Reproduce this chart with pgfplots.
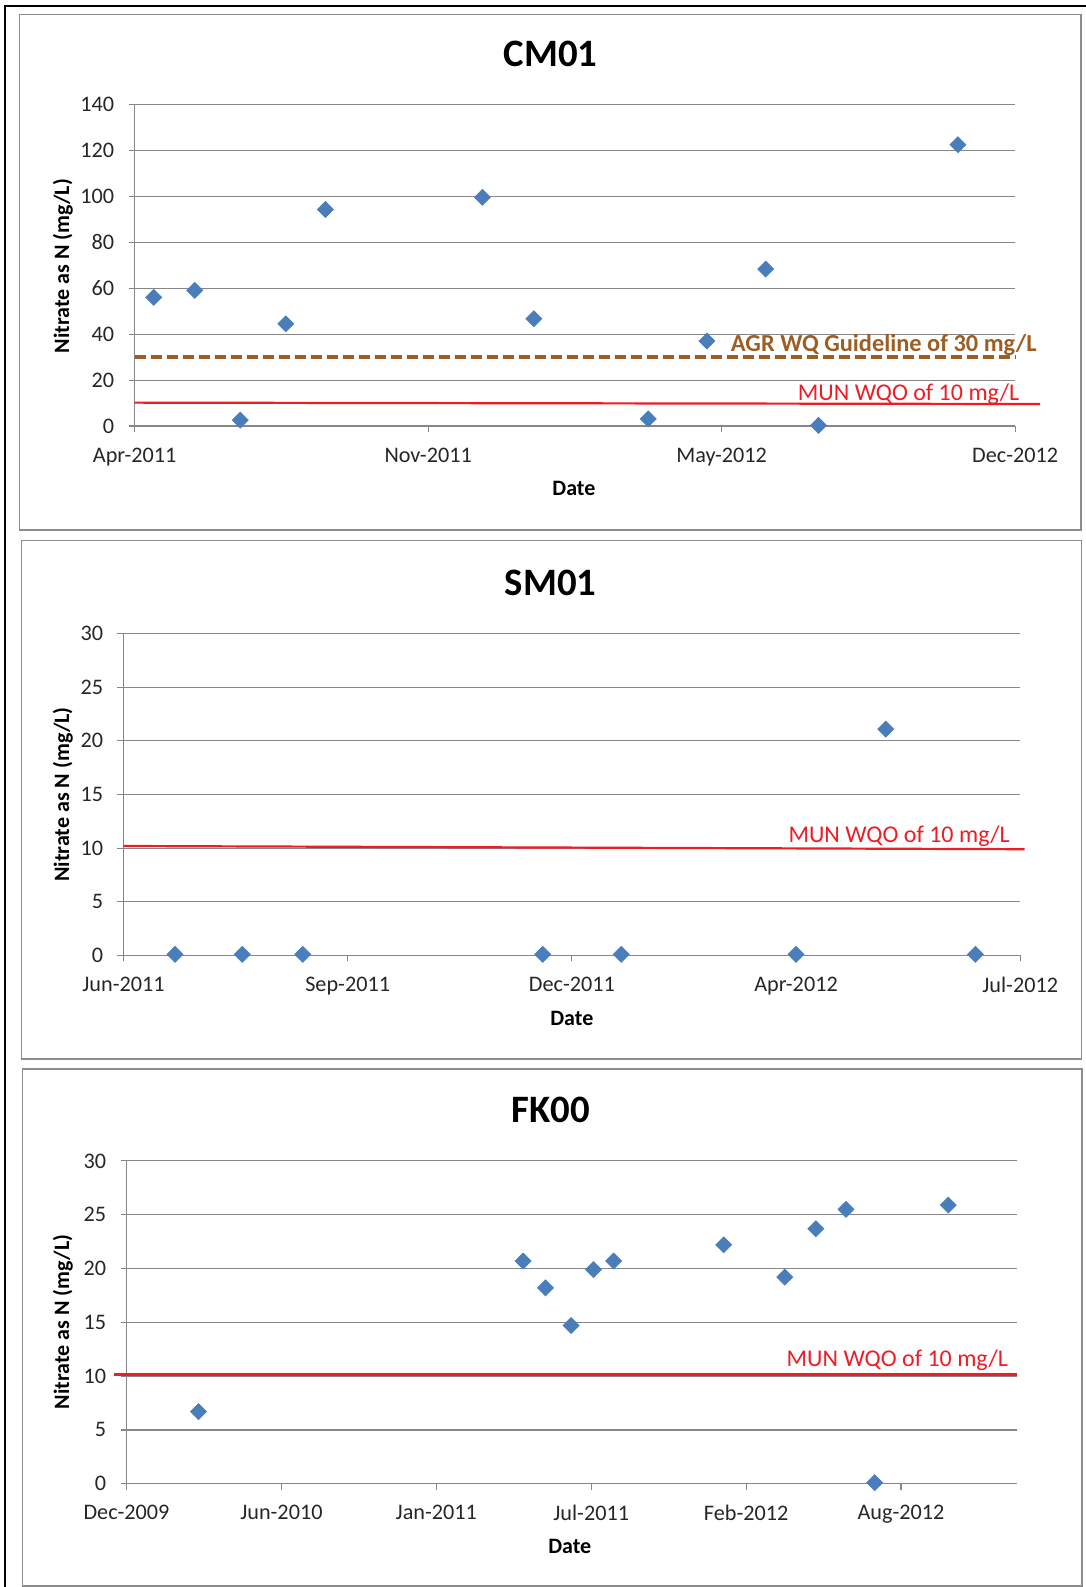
\documentclass[border=0pt]{standalone}
\usepackage{pgfplots}
\pgfplotsset{compat=1.18}
\usepackage{fontspec}
\setmainfont{Carlito}

\definecolor{gridgray}{HTML}{878787}
\definecolor{framegray}{HTML}{8C8C8C}
\definecolor{ptblue}{HTML}{4A7EBB}
\definecolor{munred}{HTML}{EE1C25}
\definecolor{agrbrown}{HTML}{9C5E22}

\pgfplotsset{
  excel/.style={
    scale only axis, clip=false,
    axis x line*=bottom, axis y line*=left,
    axis line style={gridgray, line width=0.6bp, -},
    ymajorgrids, major grid style={gridgray, line width=0.6bp},
    tick align=outside, major tick length=3bp,
    tick style={gridgray, line width=0.6bp},
    ymin=0, scaled ticks=false,
    ticklabel style={font=\fontsize{11.1bp}{13bp}\selectfont, text=black!85},
    /pgf/number format/assume math mode=true,
    yticklabel style={inner sep=0pt, xshift=-7bp},
    xticklabel style={inner sep=0pt, yshift=-7.6bp},
  },
  pts/.style={only marks, mark=square*, mark size=2.8bp,
    mark options={rotate=45, fill=ptblue, draw=ptblue}},
  mun/.style={munred, line width=1.1bp, no marks},
}
\newcommand{\annot}{\fontsize{12bp}{14bp}\selectfont}
\newcommand{\ttl}{\fontsize{19.4bp}{22bp}\selectfont\bfseries}
\newcommand{\lbl}{\fontsize{11bp}{13bp}\selectfont\bfseries}

\begin{document}
\begin{tikzpicture}[x=0.50606bp, y=0.50606bp]
% outer frame and panel frames
\draw[line width=1.3bp] (5,0) -- (5,1561.9) -- (1073,1561.9);
\draw[framegray, line width=0.6bp] (19.5,1553.7) rectangle (1068,1044.3);
\draw[framegray, line width=0.6bp] (21.4,1033.8) rectangle (1068.5,521.7);
\draw[framegray, line width=0.6bp] (22,511.8) rectangle (1069,1);

% axis origins
\coordinate (o1) at (133,1147);
\coordinate (o2) at (122,624);
\coordinate (o3) at (125,102);

% ---- CM01
\node[font=\ttl] at (544,1515) {CM01};
\node[font=\lbl, rotate=90] at (62,1305) {Nitrate as N (mg/L)};
\node[font=\lbl] at (567,1085) {Date};
\begin{axis}[excel, at={(o1)}, anchor=south west,
  width=440.27bp, height=160.93bp,
  xmin=40650, xmax=41250, ymax=140, ytick={0,20,...,140},
  xtick={40650,40850,41050,41250},
  xticklabels={Apr-2011,Nov-2011,May-2012,Dec-2012}]
\addplot[agrbrown, line width=1.7bp, dash pattern=on 5.5bp off 2.5bp]
  coordinates {(40650,30) (41250,30)};
\addplot[mun] coordinates {(40650,10.2) (41267,9.6)};
\addplot[pts] coordinates {
(40663,56) (40691,59) (40722,2.6) (40753,44.5) (40780,94.2) (40887,99.5)
(40922,46.7) (41000,3.1) (41040,37) (41080,68.3) (41116,0.3) (41211,122.4)};
\node[anchor=base east, font=\fontsize{12.2bp}{14bp}\selectfont\bfseries, text=agrbrown, inner sep=0pt]
  at (axis cs:41265,32.4) {AGR WQ Guideline of 30 mg/L};
\node[anchor=base east, font=\annot, text=munred, inner sep=0pt]
  at (axis cs:41253,11.0) {MUN WQO of 10 mg/L};
\end{axis}

% ---- SM01
\node[font=\ttl] at (544,992) {SM01};
\node[font=\lbl, rotate=90] at (62,783) {Nitrate as N (mg/L)};
\node[font=\lbl] at (565,562) {Date};
\begin{axis}[excel, at={(o2)}, anchor=south west,
  width=448.37bp, height=160.93bp,
  xmin=40700, xmax=41100, ymax=30, ytick={0,5,...,30},
  xtick={40700,40800,40900,41000,41100},
  xticklabels={Jun-2011,Sep-2011,Dec-2011,Apr-2012,Jul-2012}]
\addplot[mun] coordinates {(40700,10.2) (41102,9.9)};
\addplot[pts] coordinates {
(40723,0.1) (40753,0.1) (40780,0.1) (40887,0.1) (40922,0.1)
(41000,0.1) (41040,21.1) (41080,0.1)};
\node[anchor=base east, font=\annot, text=munred, inner sep=0pt]
  at (axis cs:41095.5,10.5) {MUN WQO of 10 mg/L};
\end{axis}

% ---- FK00
\node[font=\ttl] at (544,471) {FK00};
\node[font=\lbl, rotate=90] at (62,262) {Nitrate as N (mg/L)};
\node[font=\lbl] at (563,40) {Date};
\begin{axis}[excel, at={(o3)}, anchor=south west,
  width=445.33bp, height=161.43bp,
  xmin=40150, xmax=41300, ymax=30, ytick={0,5,...,30},
  xtick={40150,40350,40550,40750,40950,41150},
  xticklabels={Dec-2009,Jun-2010,Jan-2011,Jul-2011,Feb-2012,Aug-2012}]
\addplot[mun] coordinates {(40134,10.15) (41300,10.15)};
\addplot[pts] coordinates {
(40243,6.7) (40662,20.7) (40691,18.2) (40724,14.7) (40753,19.9) (40779,20.7)
(40921,22.2) (41000,19.2) (41040,23.7) (41079,25.5) (41116,0.1) (41211,25.9)};
\node[anchor=base east, font=\annot, text=munred, inner sep=0pt]
  at (axis cs:41288.6,10.9) {MUN WQO of 10 mg/L};
\end{axis}

\pgfresetboundingbox
\useasboundingbox (0,0) rectangle (1073,1568);
\end{tikzpicture}
\end{document}
